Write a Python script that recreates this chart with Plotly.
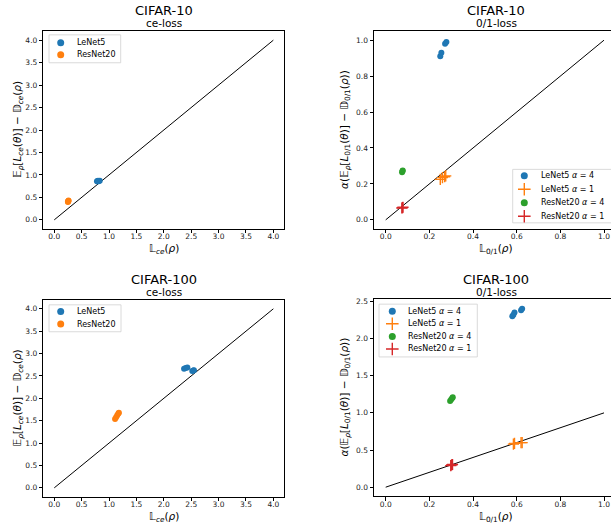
import plotly.graph_objects as go

# ---------------- data ----------------
# CIFAR-10, ce-loss
c10_ce_lenet_x = [0.78, 0.80, 0.81, 0.83, 0.79]
c10_ce_lenet_y = [0.86, 0.87, 0.86, 0.87, 0.86]
c10_ce_resnet_x = [0.25, 0.26, 0.25, 0.26]
c10_ce_resnet_y = [0.40, 0.42, 0.41, 0.43]

# CIFAR-10, 0/1-loss
c10_01_lenet_a4_x = [0.250, 0.255, 0.272, 0.278]
c10_01_lenet_a4_y = [0.91, 0.93, 0.98, 0.99]
c10_01_lenet_a1_x = [0.25, 0.26, 0.27, 0.275]
c10_01_lenet_a1_y = [0.225, 0.235, 0.24, 0.245]
c10_01_resnet_a4_x = [0.075, 0.077, 0.078]
c10_01_resnet_a4_y = [0.265, 0.272, 0.275]
c10_01_resnet_a1_x = [0.074, 0.077, 0.079]
c10_01_resnet_a1_y = [0.066, 0.068, 0.070]

# CIFAR-100, ce-loss
c100_ce_lenet_x = [2.37, 2.40, 2.43, 2.52, 2.55, 2.54]
c100_ce_lenet_y = [2.66, 2.68, 2.69, 2.61, 2.63, 2.62]
c100_ce_resnet_x = [1.11, 1.13, 1.15, 1.17, 1.18]
c100_ce_resnet_y = [1.54, 1.58, 1.62, 1.66, 1.68]

# CIFAR-100, 0/1-loss
c100_01_lenet_a4_x = [0.580, 0.585, 0.590, 0.620, 0.625]
c100_01_lenet_a4_y = [2.30, 2.32, 2.35, 2.38, 2.40]
c100_01_lenet_a1_x = [0.585, 0.59, 0.62, 0.625]
c100_01_lenet_a1_y = [0.58, 0.59, 0.60, 0.60]
c100_01_resnet_a4_x = [0.295, 0.300, 0.305, 0.307]
c100_01_resnet_a4_y = [1.16, 1.18, 1.20, 1.21]
c100_01_resnet_a1_x = [0.298, 0.302, 0.306]
c100_01_resnet_a1_y = [0.29, 0.30, 0.305]

ce_line = [0, 4]
zo_line = [0, 1]

ce_ticks = [0.0, 0.5, 1.0, 1.5, 2.0, 2.5, 3.0, 3.5, 4.0]
zo_ticks = [0.0, 0.2, 0.4, 0.6, 0.8, 1.0]
zo_yticks_100 = [0.0, 0.5, 1.0, 1.5, 2.0, 2.5]

ce_names = ["LeNet5", "ResNet20"]
zo_names = ["LeNet5 <i>α</i> = 4", "LeNet5 <i>α</i> = 1",
            "ResNet20 <i>α</i> = 4", "ResNet20 <i>α</i> = 1"]

BLUE, ORANGE, GREEN, RED = "#1f77b4", "#ff7f0e", "#2ca02c", "#d62728"
FONT = "DejaVu Sans"

W, H = 611, 525

fig = go.Figure()

DOT = dict(size=6, symbol="circle", line=dict(width=0))
PLUS = dict(size=8, symbol="cross-thin-open")


def marker(kind, color, size=None):
    if kind == "dot":
        m = dict(DOT, color=color)
    else:
        m = dict(PLUS, color=color, line=dict(color=color, width=1.4))
    if size:
        m["size"] = size
    return m


def pts(x, y, name, kind, color, xa, ya):
    fig.add_trace(go.Scatter(x=x, y=y, mode="markers", name=name, showlegend=False,
                             marker=marker(kind, color), xaxis=xa, yaxis=ya))


def diag(v, xa, ya):
    fig.add_trace(go.Scatter(x=v, y=v, mode="lines", line=dict(color="black", width=1),
                             showlegend=False, xaxis=xa, yaxis=ya, hoverinfo="skip"))


ce_styles = [("dot", BLUE), ("dot", ORANGE)]
zo_styles = [("dot", BLUE), ("plus", ORANGE), ("dot", GREEN), ("plus", RED)]

# panel 1
diag(ce_line, "x", "y")
pts(c10_ce_lenet_x, c10_ce_lenet_y, ce_names[0], *ce_styles[0], "x", "y")
pts(c10_ce_resnet_x, c10_ce_resnet_y, ce_names[1], *ce_styles[1], "x", "y")
# panel 2
diag(zo_line, "x2", "y2")
pts(c10_01_lenet_a4_x, c10_01_lenet_a4_y, zo_names[0], *zo_styles[0], "x2", "y2")
pts(c10_01_lenet_a1_x, c10_01_lenet_a1_y, zo_names[1], *zo_styles[1], "x2", "y2")
pts(c10_01_resnet_a4_x, c10_01_resnet_a4_y, zo_names[2], *zo_styles[2], "x2", "y2")
pts(c10_01_resnet_a1_x, c10_01_resnet_a1_y, zo_names[3], *zo_styles[3], "x2", "y2")
# panel 3
diag(ce_line, "x3", "y3")
pts(c100_ce_lenet_x, c100_ce_lenet_y, ce_names[0], *ce_styles[0], "x3", "y3")
pts(c100_ce_resnet_x, c100_ce_resnet_y, ce_names[1], *ce_styles[1], "x3", "y3")
# panel 4
diag(zo_line, "x4", "y4")
pts(c100_01_lenet_a4_x, c100_01_lenet_a4_y, zo_names[0], *zo_styles[0], "x4", "y4")
pts(c100_01_lenet_a1_x, c100_01_lenet_a1_y, zo_names[1], *zo_styles[1], "x4", "y4")
pts(c100_01_resnet_a4_x, c100_01_resnet_a4_y, zo_names[2], *zo_styles[2], "x4", "y4")
pts(c100_01_resnet_a1_x, c100_01_resnet_a1_y, zo_names[3], *zo_styles[3], "x4", "y4")


def px(v):
    return v / W


def py(v):
    return 1 - v / H


tickfont = dict(family=FONT, size=7.5, color="#222")


def axis(domain, rng, ticks, anchor, mirror=True, standoff=0):
    return dict(domain=domain, range=rng, tickvals=ticks,
                ticktext=[f"{t:.1f}" for t in ticks], anchor=anchor,
                showgrid=False, zeroline=False, showline=True, mirror=mirror,
                linecolor="black", linewidth=1, ticks="outside", ticklen=3.5,
                tickwidth=0.8, tickcolor="black", tickfont=tickfont,
                ticklabelstandoff=standoff)


xl = [px(43.3), px(284.3)]
xr = [px(374), 1.0]
yt = [py(227.7), py(29.3)]
yb = [py(496.7), py(299)]

# pixel-space overlay for legend glyphs
pix_x = dict(domain=[0, 1], range=[0, W], visible=False, fixedrange=True, anchor="y5")
pix_y = dict(domain=[0, 1], range=[H, 0], visible=False, fixedrange=True, anchor="x5")

fig.update_layout(
    width=W, height=H, margin=dict(l=0, r=0, t=0, b=0),
    paper_bgcolor="white", plot_bgcolor="rgba(0,0,0,0)", showlegend=False,
    xaxis=axis(xl, [-0.2, 4.2], ce_ticks, "y", standoff=-3),
    yaxis=axis(yt, [-0.2, 4.2], ce_ticks, "x"),
    xaxis2=axis(xr, [-0.0536, 1.032], zo_ticks, "y2", standoff=-3),
    yaxis2=axis(yt, [-0.05, 1.05], zo_ticks, "x2", mirror=False),
    xaxis3=axis(xl, [-0.2, 4.2], ce_ticks, "y3", standoff=-3),
    yaxis3=axis(yb, [-0.2, 4.2], ce_ticks, "x3"),
    xaxis4=axis(xr, [-0.0536, 1.032], zo_ticks, "y4", standoff=-3),
    yaxis4=axis([py(496), py(298.3)], [-0.12, 2.53], zo_yticks_100, "x4", mirror=False),
    xaxis5=pix_x, yaxis5=pix_y,
)

ann = []
shapes = []


def text(x, y, s, size, angle=0, anchor="center"):
    ann.append(dict(x=px(x), y=py(y), xref="paper", yref="paper", text=s, showarrow=False,
                    xanchor=anchor, yanchor="middle", textangle=angle,
                    font=dict(family=FONT, size=size, color="black")))


# legends (box, glyph, label)
def legend(box, mx, tx, rows, names, styles):
    x0, y0, x1, y1 = box
    shapes.append(dict(type="rect", xref="paper", yref="paper", layer="below",
                       x0=px(x0), x1=px(x1), y0=py(y1), y1=py(y0),
                       line=dict(color="#d0d0d0", width=0.8), fillcolor="white"))
    for r, n, (kind, color) in zip(rows, names, styles):
        fig.add_trace(go.Scatter(x=[mx], y=[r], mode="markers",
                                 marker=marker(kind, color, 7 if kind == "dot" else 9),
                                 xaxis="x5", yaxis="y5", showlegend=False, hoverinfo="skip"))
        text(tx, r, n, 8, anchor="left")


legend((49, 33, 120.7, 61), 60.7, 74.5, [41, 53], ce_names, ce_styles)
legend((512.7, 168, 615, 221.7), 524.3, 539, [174.5, 188, 201.5, 215], zo_names, zo_styles)
legend((49, 304, 121, 331), 60.7, 74.5, [310.7, 323.3], ce_names, ce_styles)
legend((379, 303.3, 477.3, 356.3), 392.3, 406, [310.5, 323, 335.7, 348.3], zo_names, zo_styles)

# titles
text(164, 9, "CIFAR-10", 13)
text(164, 21.5, "ce-loss", 10.5)
text(496, 9, "CIFAR-10", 13)
text(496, 21.5, "0/1-loss", 10.5)
text(164, 278.5, "CIFAR-100", 13)
text(164, 291, "ce-loss", 10.5)
text(496, 278.5, "CIFAR-100", 13)
text(496, 291, "0/1-loss", 10.5)

ce_ylab = "𝔼<sub><i>ρ</i></sub>[<i>L</i><sub><i>ce</i></sub>(<i>θ</i>)] − 𝔻<sub><i>ce</i></sub>(<i>ρ</i>)"
zo_ylab = "<i>α</i>(𝔼<sub><i>ρ</i></sub>[<i>L</i><sub>0/1</sub>(<i>θ</i>)] − 𝔻<sub>0/1</sub>(<i>ρ</i>))"
ce_xlab = "𝕃<sub><i>ce</i></sub>(<i>ρ</i>)"
zo_xlab = "𝕃<sub>0/1</sub>(<i>ρ</i>)"

text(164, 248, ce_xlab, 10.5)
text(496, 248, zo_xlab, 10.5)
text(164, 517, ce_xlab, 10.5)
text(496, 517, zo_xlab, 10.5)
text(18, 128.5, ce_ylab, 10.5, -90)
text(345, 128.5, zo_ylab, 10.5, -90)
text(18, 398, ce_ylab, 10.5, -90)
text(345, 397, zo_ylab, 10.5, -90)

fig.update_layout(annotations=ann, shapes=shapes)

fig.write_html("out.html", config={"displayModeBar": False},
               post_script="document.body.style.margin='0px';")
